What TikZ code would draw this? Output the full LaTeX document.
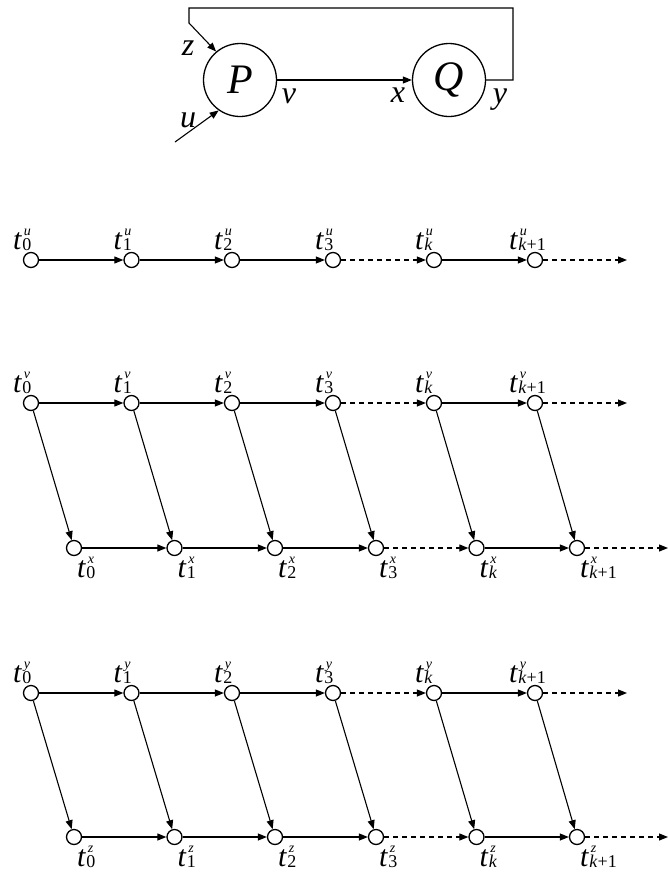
\documentclass[tikz,border=0pt]{standalone}
\usepackage{fontspec}
\setmainfont{Liberation Serif}
\usetikzlibrary{arrows.meta}
\newcommand{\tlab}[2]{\fontsize{30}{30}\selectfont\textit{t}\kern0.3pt\makebox[0pt][l]{\raisebox{14pt}{\fontsize{14}{14}\selectfont\kern1.5pt\textit{#2}}}\raisebox{-1.5pt}{\fontsize{18}{18}\selectfont #1}}
\begin{document}
\begin{tikzpicture}[x=1pt,y=-1pt,
 dot/.style={circle,draw,line width=1.3pt,minimum size=15pt,inner sep=0pt,fill=white},
 arr/.style={line width=1.1pt,line join=miter,-{Triangle[length=9pt,width=7pt]}},
 darr/.style={arr,dash pattern=on 5pt off 4pt},
 big/.style={circle,draw,line width=1.3pt,minimum size=73pt,inner sep=0pt,font=\fontsize{42}{42}\selectfont\itshape},
 lbl/.style={font=\fontsize{32}{32}\selectfont\itshape,inner sep=0pt,anchor=base},
 tl/.style={inner sep=0pt,anchor=base west}]
\useasboundingbox (0,0) rectangle (668,873);

% top system diagram
\node[big] (P) at (240,80) {P};
\node[big] (Q) at (449,80) {Q};
\draw[arr] (P) -- (Q);
\coordinate (f1) at (513,80);
\coordinate (f2) at (513,8);
\coordinate (f3) at (189,8);
\coordinate (f4) at (189,23);
\draw[arr] (Q.east) -- (f1) -- (f2) -- (f3) -- (f4) -- (P.130);
\coordinate (uin) at (175,142);
\draw[arr] (uin) -- (P.235);
\node[lbl] (lz) at (188,55) {z};
\node[lbl] (lu) at (188,127) {u};
\node[lbl] (lv) at (289,103) {v};
\node[lbl] (lx) at (398,102) {x};
\node[lbl] (ly) at (500,103) {y};

% upper rows (labels above)
\foreach \r/\y in {u/260,v/403,y/693}{
  \foreach \i/\x/\s/\o in {0/31/0/18,1/131.5/1/18,2/232/2/18,3/333/3/18,k/434/{\textit{k}}/19,k1/535/{\textit{k}+1}/26}{
    \node[dot] (\r\i) at (\x,\y) {};
    \node[tl] (\r\i l) at (\x-\o,\y-11) {\tlab{\s}{\r}};
  }
  \coordinate (\r e) at (627,\y);
  \draw[arr] (\r0) -- (\r1);
  \draw[arr] (\r1) -- (\r2);
  \draw[arr] (\r2) -- (\r3);
  \draw[darr] (\r3) -- (\r k);
  \draw[arr] (\r k) -- (\r k1);
  \draw[darr] (\r k1) -- (\r e);
}

% lower rows (labels below)
\foreach \r/\y in {x/548,z/837}{
  \foreach \i/\x/\s in {0/74/0,1/174.5/1,2/275/2,3/376/3,k/476.5/{\textit{k}},k1/577/{\textit{k}+1}}{
    \node[dot] (\r\i) at (\x,\y) {};
    \node[tl] (\r\i l) at (\x+3,\y+29) {\tlab{\s}{\r}};
  }
  \coordinate (\r e) at (668,\y);
  \draw[arr] (\r0) -- (\r1);
  \draw[arr] (\r1) -- (\r2);
  \draw[arr] (\r2) -- (\r3);
  \draw[darr] (\r3) -- (\r k);
  \draw[arr] (\r k) -- (\r k1);
  \draw[darr] (\r k1) -- (\r e);
}

% diagonal links
\foreach \i in {0,1,2,3,k,k1}{
  \draw[arr] (v\i) -- (x\i);
  \draw[arr] (y\i) -- (z\i);
}
\end{tikzpicture}
\end{document}
